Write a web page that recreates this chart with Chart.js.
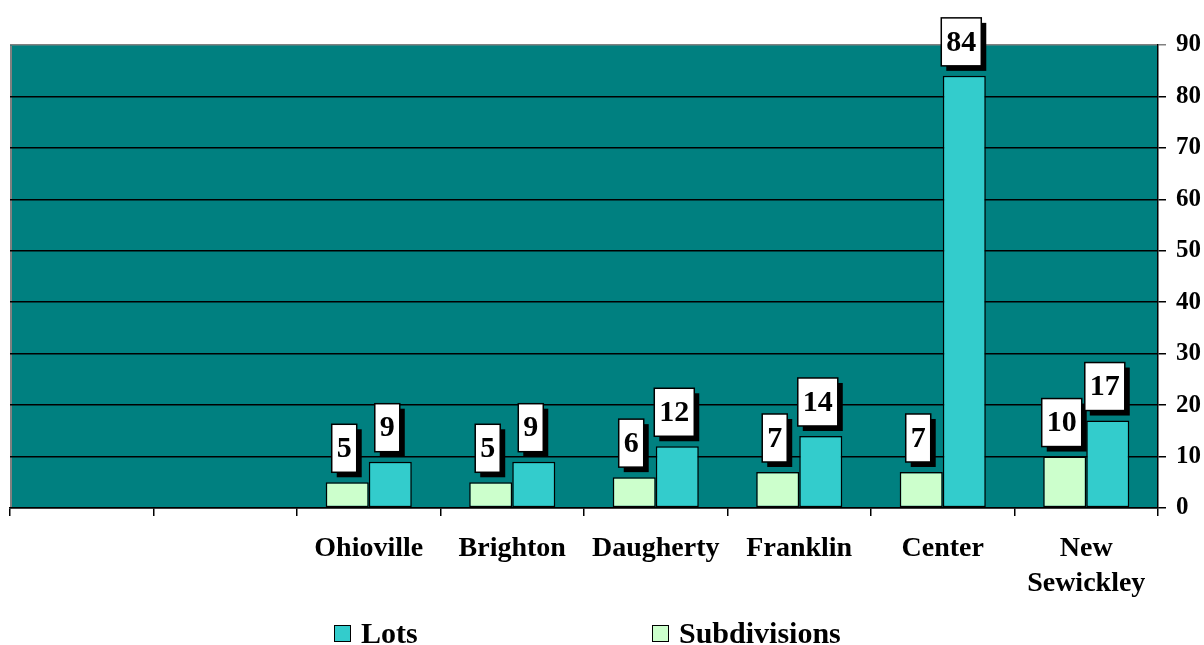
<!DOCTYPE html>
<html lang="en">
<head>
<meta charset="UTF-8">
<title>Lots and Subdivisions</title>
<script src="https://cdn.jsdelivr.net/npm/chart.js@4/dist/chart.umd.min.js"></script>
<style>
  body, html { margin: 0; padding: 0; background: #fff; }
  #wrap { position: relative; width: 1204px; height: 645px; }
  #legend {
    position: absolute; left: 0; top: 616px; width: 1204px; height: 34px;
    font-family: "Liberation Serif", "Times New Roman", serif; font-weight: bold; font-size: 30px;
  }
  .item { position: absolute; top: 0; display: flex; align-items: center; }
  .swatch { width: 15px; height: 15px; border: 1.5px solid #000; margin-right: 10px; }
</style>
</head>
<body>
<div id="wrap">
  <canvas id="chart" width="1204" height="645"></canvas>
  <div id="legend">
    <div class="item" style="left:334px"><div class="swatch" style="background:#33cccc"></div>Lots</div>
    <div class="item" style="left:652px"><div class="swatch" style="background:#ccffcc"></div>Subdivisions</div>
  </div>
</div>
<script>
const categories = ['', '', 'Ohioville', 'Brighton', 'Daugherty', 'Franklin', 'Center', ['New', 'Sewickley']];
const subdivisions = [null, null, 5, 5, 6, 7, 7, 10];
const lots = [null, null, 9, 9, 12, 14, 84, 17];
const yTicks = [0, 10, 20, 30, 40, 50, 60, 70, 80, 90];

const serif = '"Liberation Serif", "Times New Roman", serif';

// teal plot background plus the grey edge on the left
const plotBackground = {
  id: 'plotBackground',
  beforeDraw(chart) {
    const { ctx, chartArea: a } = chart;
    ctx.save();
    ctx.fillStyle = '#008080';
    ctx.fillRect(a.left, a.top, a.right - a.left, a.bottom - a.top);
    ctx.strokeStyle = '#808080';
    ctx.lineWidth = 2;
    ctx.beginPath();
    ctx.moveTo(a.left + 1, a.bottom);
    ctx.lineTo(a.left + 1, a.top + 1);
    ctx.stroke();
    ctx.restore();
  }
};

// boxed value labels with a drop shadow
const boxLabels = {
  id: 'boxLabels',
  afterDatasetsDraw(chart) {
    const ctx = chart.ctx;
    ctx.save();
    ctx.font = 'bold 30px ' + serif;
    ctx.textAlign = 'center';
    ctx.textBaseline = 'middle';
    chart.data.datasets.forEach((ds, di) => {
      const meta = chart.getDatasetMeta(di);
      meta.data.forEach((bar, i) => {
        const v = ds.data[i];
        if (v == null) return;
        const text = String(v);
        const w = ctx.measureText(text).width + 10;
        const h = 48;
        const cx = bar.x - 3;
        const x = cx - w / 2;
        const y = bar.y - 10 - h;
        ctx.fillStyle = '#000';
        ctx.fillRect(x + 5, y + 5, w, h);
        ctx.fillStyle = '#fff';
        ctx.fillRect(x, y, w, h);
        ctx.strokeStyle = '#000';
        ctx.lineWidth = 1.5;
        ctx.strokeRect(x, y, w, h);
        ctx.fillStyle = '#000';
        ctx.fillText(text, cx, y + h / 2 + 1);
      });
    });
    ctx.restore();
  }
};

const ctx = document.getElementById('chart').getContext('2d');
new Chart(ctx, {
  type: 'bar',
  data: {
    labels: categories,
    datasets: [
      {
        label: 'Subdivisions',
        data: subdivisions,
        backgroundColor: '#ccffcc',
        borderColor: '#000',
        borderWidth: 1.5,
        borderSkipped: false
      },
      {
        label: 'Lots',
        data: lots,
        backgroundColor: '#33cccc',
        borderColor: '#000',
        borderWidth: 1.5,
        borderSkipped: false
      }
    ]
  },
  options: {
    responsive: false,
    animation: false,
    layout: { padding: { left: 10, top: 45, right: 0, bottom: 0 } },
    datasets: { bar: { categoryPercentage: 0.6, barPercentage: 1.0 } },
    plugins: {
      legend: { display: false },
      tooltip: { enabled: false }
    },
    scales: {
      x: {
        offset: true,
        grid: {
          offset: true,
          drawOnChartArea: false,
          drawTicks: true,
          tickLength: 8,
          color: '#000',
          lineWidth: 1.5
        },
        border: { display: true, color: '#000', width: 1.5 },
        ticks: {
          color: '#000',
          padding: 15,
          maxRotation: 0,
          autoSkip: false,
          font: { family: serif, weight: 'bold', size: 28, lineHeight: 1.25 }
        },
        afterFit(scale) { scale.height = 137; }
      },
      y: {
        position: 'right',
        min: 0,
        max: 90,
        afterBuildTicks(scale) { scale.ticks = yTicks.map(v => ({ value: v })); },
        grid: {
          color: c => (c.tick && c.tick.value === 90 ? '#808080' : '#000'),
          lineWidth: 1.5,
          drawTicks: true,
          tickLength: 8
        },
        border: { display: true, color: '#000', width: 1.5 },
        ticks: {
          color: '#000',
          padding: 10,
          font: { family: serif, weight: 'bold', size: 25 }
        },
        afterFit(scale) { scale.width = 46; }
      }
    }
  },
  plugins: [plotBackground, boxLabels]
});
</script>
</body>
</html>
